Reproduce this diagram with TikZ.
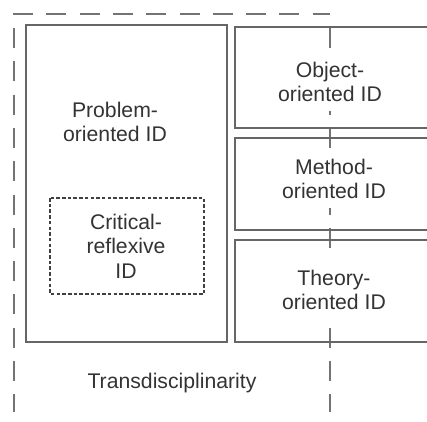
\documentclass[tikz,border=0pt]{standalone}
\usepackage{fontspec}
\setmainfont{Liberation Sans}
\begin{document}
\begin{tikzpicture}[x=1pt,y=-1pt,
  outer/.style={draw=black!55,line width=2.6pt,dash pattern=on 20pt off 13.3pt},
  box/.style={draw=black!60,line width=2.4pt},
  crit/.style={draw=black!75,line width=1.6pt,dash pattern=on 3.5pt off 2.2pt},
  lbl/.style={font=\fontsize{21.2}{24.5}\selectfont,text=black!80,align=center,inner sep=1pt},
  cover/.style={fill=white,inner ysep=9pt}]
\useasboundingbox (0,0) rectangle (427,421);
% outer dashed frame
\coordinate (tl) at (13,14);
\coordinate (tr) at (330,14);
\coordinate (lt) at (14,28);
\coordinate (lb) at (14,412);
\coordinate (rt) at (330,28);
\coordinate (rb) at (330,412);
\draw[outer] (tl) -- (tr);
\draw[outer] (lt) -- (lb);
\draw[outer] (rt) -- (rb);
% boxes
\draw[box] (26,25) rectangle (227,342);
\draw[box] (235,27) rectangle (440,128);
\draw[box] (235,138) rectangle (440,230);
\draw[box] (235,240) rectangle (440,342);
\draw[crit] (50,198) rectangle (204,294);
% labels
\node[lbl] (prob) at (115,122) {Problem-\\oriented ID};
\node[lbl] (crit) at (126,246) {Critical-\\reflexive\\ID};
\node[lbl,cover] (obj) at (330,82) {Object-\\oriented ID};
\node[lbl,cover] (meth) at (334,179) {Method-\\oriented ID};
\node[lbl,cover] (theo) at (334,290) {Theory-\\oriented ID};
\node[lbl] (trans) at (172,383) {Transdisciplinarity};
\end{tikzpicture}
\end{document}
